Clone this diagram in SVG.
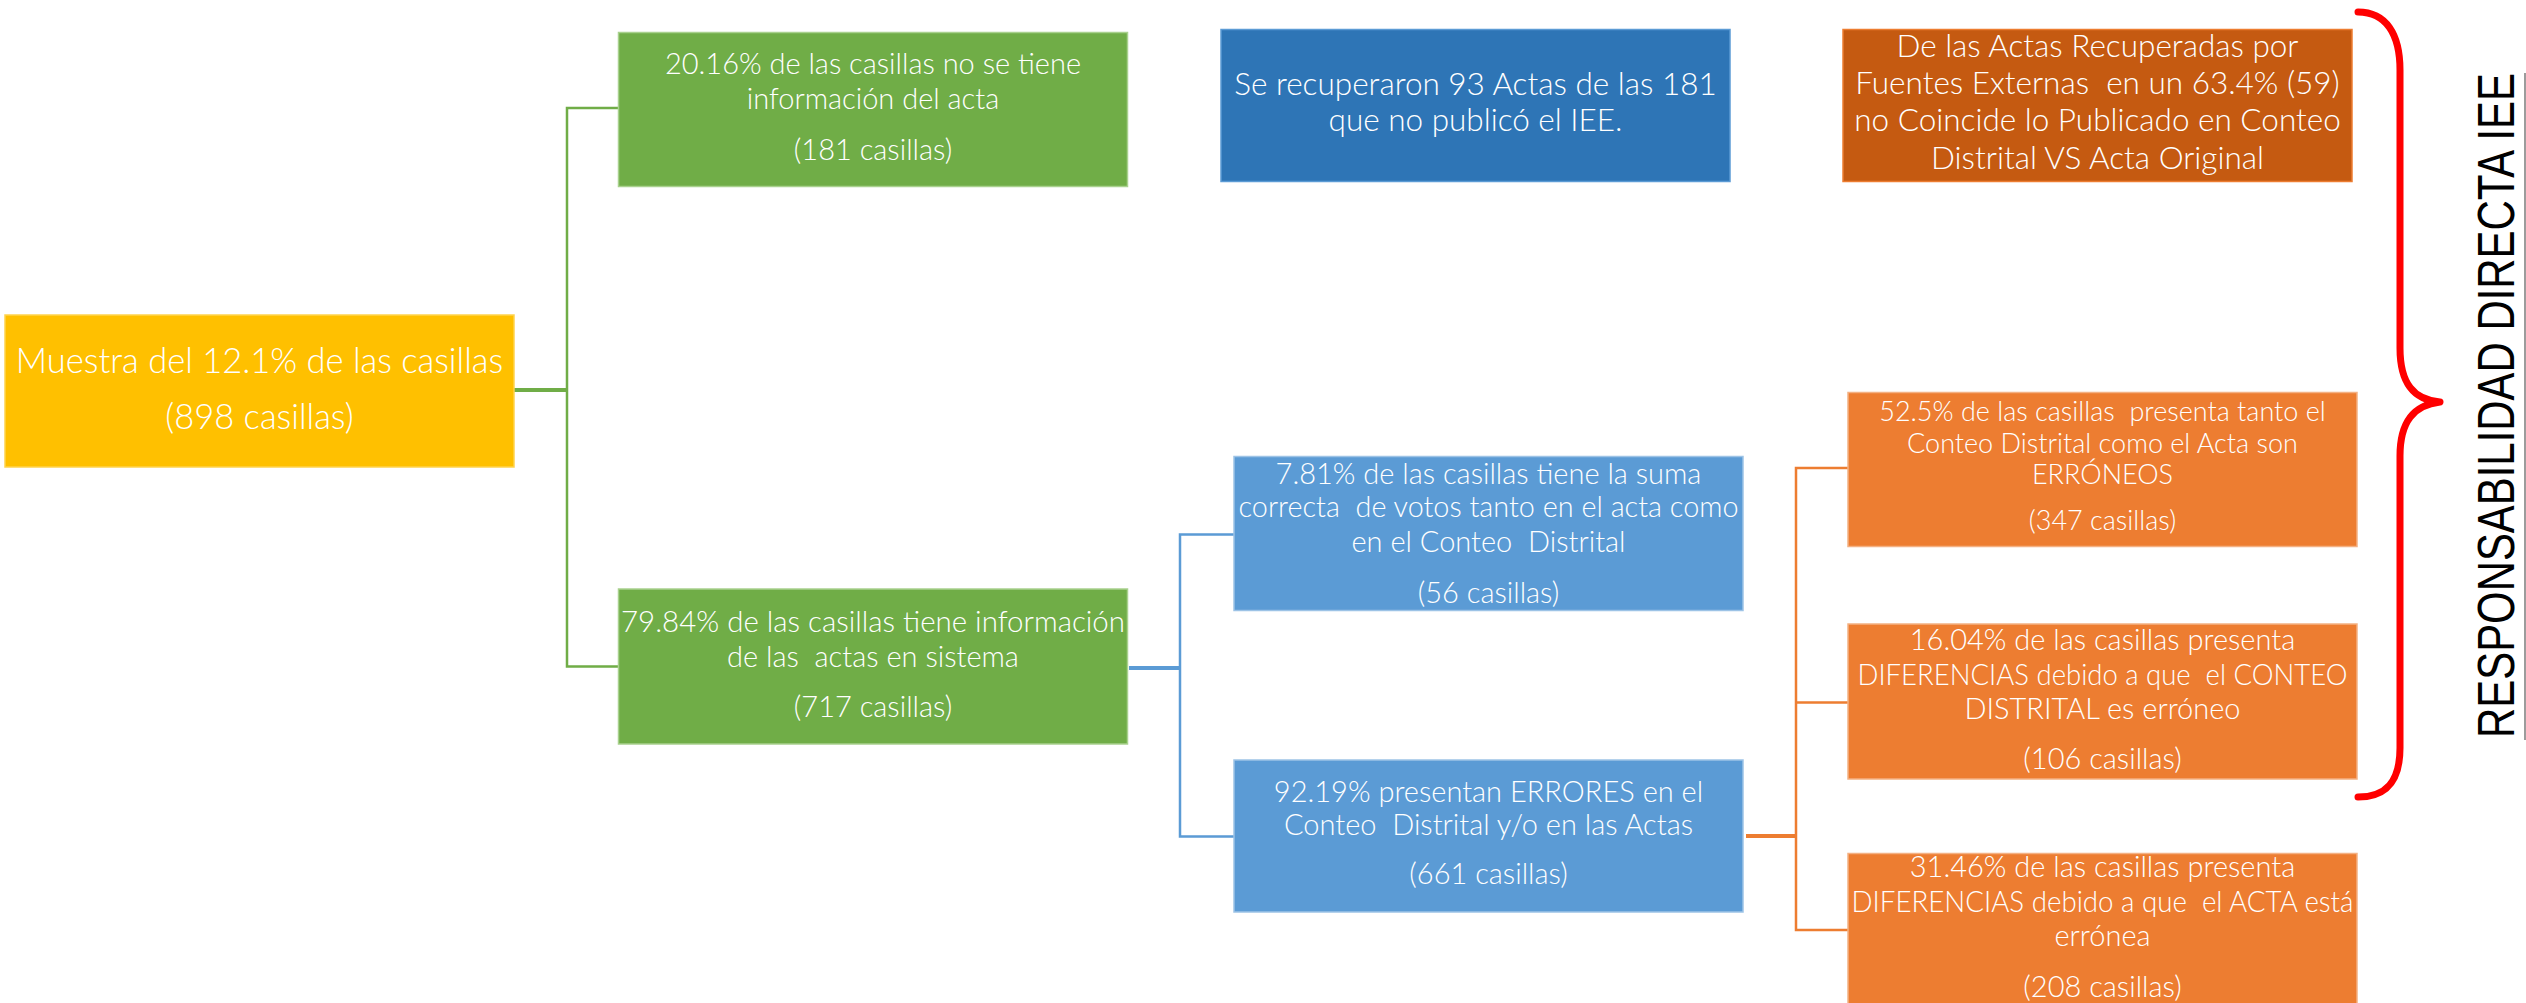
<svg xmlns="http://www.w3.org/2000/svg" width="2526" height="1003" viewBox="0 0 2526 1003">
<style>
  .box { stroke-width: 1.5; }
  .t { font-family: Lato, "Open Sans", "Liberation Sans", sans-serif; font-weight: 300; fill: #ffffff; text-anchor: middle; }
  .f28 { font-size: 29px; }
  .f31 { font-size: 31.5px; }
  .f33 { font-size: 34.5px; }
  .f26 { font-size: 27px; }
  .conn { fill: none; stroke-width: 2.5; }
  .stub { fill: none; stroke-width: 4; }
  .g { stroke: #70AD47; }
  .b { stroke: #5B9BD5; }
  .o { stroke: #ED7D31; }
</style>
<rect width="2526" height="1003" fill="#ffffff"/>

<g id="connectors">
  <path class="stub g" d="M514,390 H567"/>
  <path class="conn g" d="M618.5,108 H567 V666.5 H618.5"/>
  <path class="stub b" d="M1129,668 H1180"/>
  <path class="conn b" d="M1234,534.5 H1180 V836.5 H1234"/>
  <path class="stub o" d="M1746,836 H1796"/>
  <path class="conn o" d="M1848,468 H1796 V930 H1848"/>
  <path class="conn o" d="M1796,702.5 H1848"/>
</g>

<g id="node-muestra">
  <rect class="box" x="5" y="315" width="509" height="152" fill="#FFC000" stroke="#FFD34D"/>
  <text class="t f33" x="259.5" y="373" xml:space="preserve">Muestra del 12.1% de las casillas</text>
  <text class="t f33" x="259.5" y="429" xml:space="preserve">(898 casillas)</text>
</g>

<g id="node-sin-info">
  <rect class="box" x="618.5" y="32.5" width="509" height="154" fill="#70AD47" stroke="#A9D18E"/>
  <text class="t f28" x="873" y="74" xml:space="preserve">20.16% de las casillas no se tiene</text>
  <text class="t f28" x="873" y="109" xml:space="preserve">información del acta</text>
  <text class="t f28" x="873" y="160" xml:space="preserve">(181 casillas)</text>
</g>

<g id="node-con-info">
  <rect class="box" x="618.5" y="589" width="509" height="155" fill="#70AD47" stroke="#A9D18E"/>
  <text class="t f28" x="873" y="632" xml:space="preserve" textLength="504" lengthAdjust="spacingAndGlyphs">79.84% de las casillas tiene información</text>
  <text class="t f28" x="873" y="667" xml:space="preserve">de las  actas en sistema</text>
  <text class="t f28" x="873" y="717" xml:space="preserve">(717 casillas)</text>
</g>

<g id="node-recuperaron">
  <rect class="box" x="1221" y="29.5" width="509" height="152" fill="#2E75B6" stroke="#5B9BD5"/>
  <text class="t f31" x="1475.5" y="94.5" xml:space="preserve">Se recuperaron 93 Actas de las 181</text>
  <text class="t f31" x="1475.5" y="131" xml:space="preserve">que no publicó el IEE.</text>
</g>

<g id="node-fuentes-externas">
  <rect class="box" x="1843" y="29.5" width="509" height="152" fill="#C55A11" stroke="#ED7D31"/>
  <text class="t f31" x="2097.5" y="57" xml:space="preserve">De las Actas Recuperadas por</text>
  <text class="t f31" x="2097.5" y="94" xml:space="preserve">Fuentes Externas  en un 63.4% (59)</text>
  <text class="t f31" x="2097.5" y="131" xml:space="preserve">no Coincide lo Publicado en Conteo</text>
  <text class="t f31" x="2097.5" y="169" xml:space="preserve">Distrital VS Acta Original</text>
</g>

<g id="node-suma-correcta">
  <rect class="box" x="1234" y="456.5" width="509" height="154" fill="#5B9BD5" stroke="#9DC3E6"/>
  <text class="t f28" x="1488.5" y="483.5" xml:space="preserve">7.81% de las casillas tiene la suma</text>
  <text class="t f28" x="1488.5" y="517" xml:space="preserve" textLength="500" lengthAdjust="spacingAndGlyphs">correcta  de votos tanto en el acta como</text>
  <text class="t f28" x="1488.5" y="552" xml:space="preserve">en el Conteo  Distrital</text>
  <text class="t f28" x="1488.5" y="602.5" xml:space="preserve">(56 casillas)</text>
</g>

<g id="node-errores">
  <rect class="box" x="1234" y="760" width="509" height="152" fill="#5B9BD5" stroke="#9DC3E6"/>
  <text class="t f28" x="1488.5" y="801.5" xml:space="preserve">92.19% presentan ERRORES en el</text>
  <text class="t f28" x="1488.5" y="835" xml:space="preserve">Conteo  Distrital y/o en las Actas</text>
  <text class="t f28" x="1488.5" y="883.5" xml:space="preserve">(661 casillas)</text>
</g>

<g id="node-ambos-erroneos">
  <rect class="box" x="1848" y="392.5" width="509" height="154" fill="#ED7D31" stroke="#F4B183"/>
  <text class="t f26" x="2102.5" y="420.5" xml:space="preserve">52.5% de las casillas  presenta tanto el</text>
  <text class="t f26" x="2102.5" y="453" xml:space="preserve">Conteo Distrital como el Acta son</text>
  <text class="t f26" x="2102.5" y="484" xml:space="preserve">ERRÓNEOS</text>
  <text class="t f26" x="2102.5" y="529.5" xml:space="preserve">(347 casillas)</text>
</g>

<g id="node-conteo-erroneo">
  <rect class="box" x="1848" y="624" width="509" height="155" fill="#ED7D31" stroke="#F4B183"/>
  <text class="t f28" x="2102.5" y="650" xml:space="preserve">16.04% de las casillas presenta</text>
  <text class="t f28" x="2102.5" y="684.5" xml:space="preserve" textLength="490" lengthAdjust="spacingAndGlyphs">DIFERENCIAS debido a que  el CONTEO</text>
  <text class="t f28" x="2102.5" y="719" xml:space="preserve">DISTRITAL es erróneo</text>
  <text class="t f28" x="2102.5" y="769" xml:space="preserve">(106 casillas)</text>
</g>

<g id="node-acta-erronea">
  <rect class="box" x="1848" y="853.5" width="509" height="156" fill="#ED7D31" stroke="#F4B183"/>
  <text class="t f28" x="2102.5" y="876.5" xml:space="preserve">31.46% de las casillas presenta</text>
  <text class="t f28" x="2102.5" y="911.5" xml:space="preserve" textLength="502" lengthAdjust="spacingAndGlyphs">DIFERENCIAS debido a que  el ACTA está</text>
  <text class="t f28" x="2102.5" y="946" xml:space="preserve">errónea</text>
  <text class="t f28" x="2102.5" y="996.5" xml:space="preserve">(208 casillas)</text>
</g>

<g id="brace-responsabilidad">
  <path d="M2358,12 C2386,12 2400,34 2400,70 V348 C2400,384 2414,400 2440,402 C2414,405 2400,421 2400,456 V748 C2400,782 2386,797 2358,797" fill="none" stroke="#FF0000" stroke-width="7" stroke-linecap="round" stroke-linejoin="round"/>
  <text x="0" y="0" transform="translate(2514,405.5) rotate(-90)" text-anchor="middle" font-family="'Liberation Sans', Arial, sans-serif" font-size="51" fill="#000000" textLength="665" lengthAdjust="spacingAndGlyphs">RESPONSABILIDAD DIRECTA IEE</text>
  <line x1="2525" y1="73" x2="2525" y2="740" stroke="#595959" stroke-width="1.2"/>
</g>
</svg>
